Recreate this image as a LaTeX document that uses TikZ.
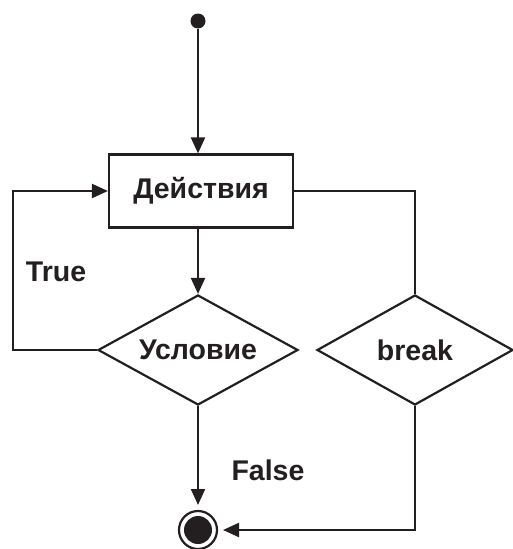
\documentclass[tikz,border=0pt]{standalone}
\usepackage{fontspec}
\setmainfont{Liberation Sans}
\usetikzlibrary{shapes.geometric,arrows.meta}
\definecolor{ink}{HTML}{231F20}
\begin{document}
\begin{tikzpicture}[x=1pt,y=-1pt,
  every node/.style={text=ink,font=\fontsize{28.5}{34}\selectfont\bfseries},
  line/.style={draw=ink,line width=2.2pt},
  flow/.style={line,-{Triangle[length=16pt,width=14pt]}},
  actbox/.style={line,rectangle,minimum width=184pt,minimum height=73pt,inner sep=0pt},
  decide/.style={line,diamond,aspect=1.8,inner sep=0pt,minimum width=200pt,minimum height=110pt},
  label/.style={inner sep=0pt}]
  \useasboundingbox (0,0) rectangle (512,549);

  % initial and final states
  \node[circle,fill=ink,inner sep=0pt,minimum size=15pt] (start) at (198,21) {};
  \node[circle,draw=ink,line width=2.2pt,minimum size=38pt,inner sep=0pt,outer sep=6pt] (stop) at (198,530) {};
  \fill[ink] (stop.center) circle (14pt);

  % loop body and checks
  \node[actbox] (act) at (201,191) {Действия};
  \node[decide] (cond) at (198,350) {Условие};
  \node[decide,minimum width=196pt] (brk) at (415,350) {break};

  \node[label] (true) at (56,272) {True};
  \node[label] (false) at (268,470) {False};

  \coordinate (loopleft) at (13,0);

  % connectors
  \draw[flow] (start) -- (start |- act.north);
  \draw[flow] (act.south -| cond.north) -- (cond.north);
  \draw[flow] (cond.west) -- (loopleft |- cond.west) -- (loopleft |- act.west) -- (act.west);
  \draw[line] (act.east) -- (brk.north |- act.east) -- (brk.north);
  \draw[flow] (cond.south) -- (stop.north);
  \draw[flow] (brk.south) -- (brk.south |- stop.east) -- (stop.east);
\end{tikzpicture}
\end{document}
